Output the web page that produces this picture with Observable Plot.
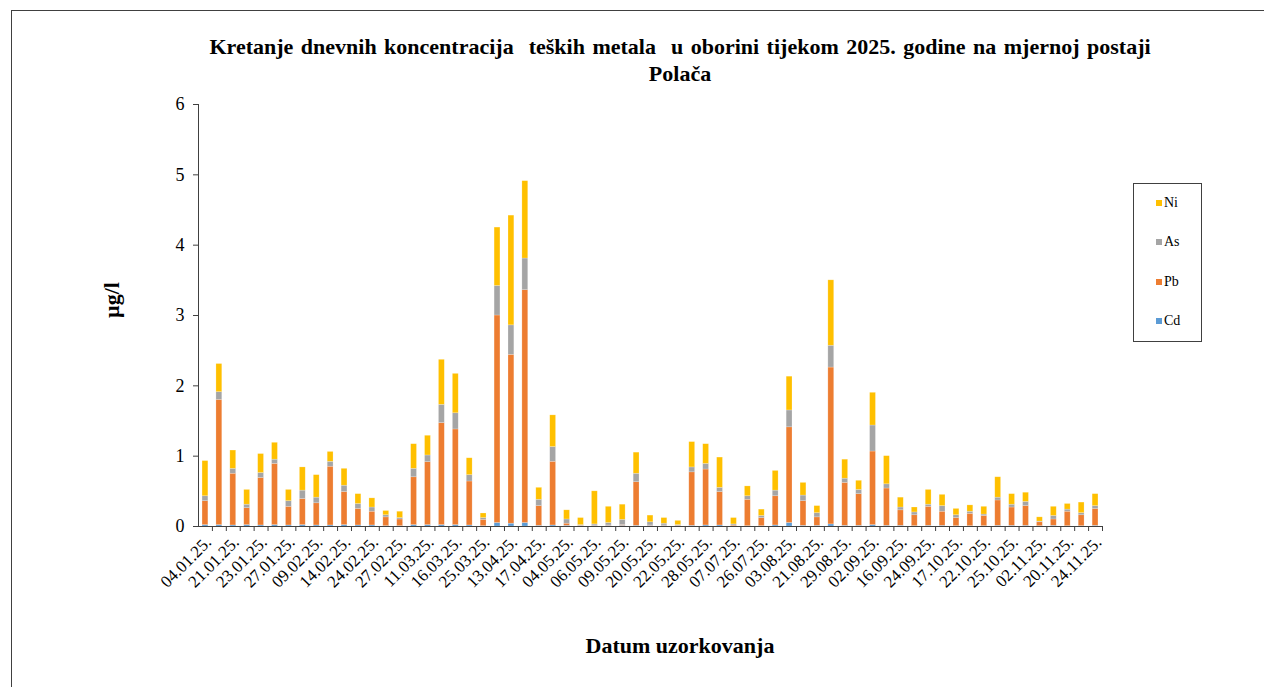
<!DOCTYPE html>
<html>
<head>
<meta charset="utf-8">
<script src="https://cdn.jsdelivr.net/npm/d3@7"></script>
<script src="https://cdn.jsdelivr.net/npm/@observablehq/plot@0.6"></script>
<style>
  html, body { margin: 0; padding: 0; background: #fff; overflow: hidden; }
  #wrap { position: relative; width: 1264px; height: 687px; overflow: hidden; font-family: "Liberation Serif", "Times New Roman", serif; color: #000; }
  #border { position: absolute; left: 11px; top: 10px; width: 1300px; height: 720px; border: 1px solid #404040; box-sizing: border-box; }
  #chart { position: absolute; left: 0; top: 0; }
  #chart svg text { font-family: "Liberation Serif", "Times New Roman", serif; }
  #title { position: absolute; left: 130px; width: 1100px; top: 33px; text-align: center; font-weight: bold; font-size: 22px; line-height: 27px; word-spacing: 2px; }
  #ylab { position: absolute; left: 112px; top: 300px; transform: translate(-50%, -50%) rotate(-90deg); font-weight: bold; font-size: 22px; white-space: nowrap; }
  #xlab { position: absolute; left: 680px; top: 646px; transform: translate(-50%, -50%); font-weight: bold; font-size: 22px; white-space: nowrap; }
  #legend { position: absolute; left: 1133px; top: 183px; width: 69px; height: 159px; border: 1px solid #404040; box-sizing: border-box; }
  .li { position: absolute; left: 22px; font-size: 14px; line-height: 14px; white-space: nowrap; }
  .sw { display: inline-block; width: 6px; height: 6px; margin-right: 2px; vertical-align: 1px; }
</style>
</head>
<body>
<div id="wrap">
  <div id="border"></div>
  <div id="chart"></div>
  <div id="title">Kretanje dnevnih koncentracija&nbsp; teških metala&nbsp; u oborini tijekom 2025. godine na mjernoj postaji<br>Polača</div>
  <div id="ylab">µg/l</div>
  <div id="xlab">Datum uzorkovanja</div>
  <div id="legend"></div>
</div>
<script>
const dates = ["04.01.25.","12.01.25.","21.01.25.","22.01.25.","23.01.25.","25.01.25.","27.01.25.","03.02.25.","09.02.25.","11.02.25.",
"14.02.25.","20.02.25.","24.02.25.","26.02.25.","27.02.25.","05.03.25.","11.03.25.","14.03.25.","16.03.25.","21.03.25.",
"25.03.25.","08.04.25.","13.04.25.","15.04.25.","17.04.25.","28.04.25.","04.05.25.","05.05.25.","06.05.25.","08.05.25.",
"09.05.25.","15.05.25.","20.05.25.","21.05.25.","22.05.25.","25.05.25.","28.05.25.","15.06.25.","07.07.25.","18.07.25.",
"26.07.25.","30.07.25.","03.08.25.","12.08.25.","21.08.25.","25.08.25.","29.08.25.","31.08.25.","02.09.25.","10.09.25.",
"16.09.25.","20.09.25.","24.09.25.","05.10.25.","17.10.25.","20.10.25.","22.10.25.","23.10.25.","25.10.25.","29.10.25.",
"02.11.25.","12.11.25.","20.11.25.","22.11.25.","24.11.25."];

const metals = ["Cd", "Pb", "As", "Ni"];
const metalColors = ["#5B9BD5", "#ED7D31", "#A5A5A5", "#FFC000"];
const legendOrder = ["Ni", "As", "Pb", "Cd"];

const Cd = [0.02,0.02,0.015,0.02,0.015,0.02,0.015,0.02,0.015,0.015,
0.02,0.015,0.015,0.005,0.005,0.02,0.02,0.02,0.02,0.015,
0.005,0.05,0.04,0.05,0.01,0.015,0.01,0.005,0.01,0.01,
0.01,0.01,0.01,0.01,0.01,0.01,0.015,0.015,0.005,0.005,
0.005,0.015,0.05,0.01,0.01,0.03,0.01,0.01,0.02,0.01,
0.01,0.005,0.01,0.01,0.005,0.005,0.005,0.01,0.01,0.01,
0.005,0.01,0.005,0.005,0.01];

const Pb = [0.34,1.78,0.735,0.24,0.675,0.87,0.265,0.37,0.315,0.835,
0.47,0.235,0.195,0.125,0.095,0.68,0.895,1.45,1.36,0.625,
0.09,2.95,2.40,3.31,0.28,0.905,0.03,0.005,0.005,0.005,
0.01,0.62,0.005,0.005,0.005,0.76,0.795,0.475,0.01,0.375,
0.115,0.415,1.36,0.35,0.12,2.23,0.61,0.45,1.046,0.53,
0.22,0.155,0.27,0.20,0.115,0.175,0.145,0.36,0.26,0.28,
0.055,0.09,0.205,0.155,0.24];

const As = [0.07,0.11,0.07,0.05,0.07,0.06,0.08,0.12,0.08,0.07,
0.09,0.07,0.06,0.03,0.02,0.12,0.095,0.26,0.23,0.09,
0.025,0.42,0.42,0.45,0.09,0.21,0.06,0.01,0.015,0.035,
0.075,0.12,0.045,0.025,0.005,0.07,0.08,0.06,0.015,0.05,
0.03,0.08,0.24,0.08,0.06,0.31,0.06,0.06,0.37,0.06,
0.04,0.04,0.03,0.08,0.04,0.03,0.02,0.04,0.04,0.06,
0.01,0.05,0.03,0.03,0.04];

const Ni = [0.50,0.40,0.26,0.21,0.27,0.24,0.16,0.33,0.32,0.14,
0.24,0.14,0.13,0.06,0.09,0.35,0.28,0.64,0.56,0.24,
0.065,0.83,1.56,1.10,0.17,0.45,0.13,0.10,0.47,0.23,
0.215,0.30,0.095,0.08,0.06,0.36,0.28,0.43,0.09,0.14,
0.09,0.28,0.48,0.18,0.10,0.93,0.27,0.13,0.465,0.40,
0.14,0.07,0.21,0.16,0.09,0.09,0.11,0.29,0.15,0.13,
0.06,0.13,0.08,0.15,0.17];

const yTicks = [0, 1, 2, 3, 4, 5, 6];

const series = {Cd, Pb, As, Ni};
const data = [];
dates.forEach((d, i) => {
  metals.forEach(m => data.push({date: d, metal: m, value: series[m][i]}));
});

const W = 1264, H = 687;
const mL = 198, mR = 162, mT = 104, mB = 161;
const pad = 0.58;
const step = (W - mL - mR) / dates.length;
const labelDates = dates.filter((d, i) => i % 2 === 0);
const serif = "'Liberation Serif', 'Times New Roman', serif";

const chart = Plot.plot({
  width: W,
  height: H,
  marginLeft: mL,
  marginRight: mR,
  marginTop: mT,
  marginBottom: mB,
  style: `font-family: ${serif}; color: #000; background: transparent;`,
  x: {type: "band", domain: dates, paddingInner: pad, paddingOuter: pad / 2, axis: null},
  y: {domain: [0, 6], axis: null},
  color: {domain: metals, range: metalColors},
  marks: [
    Plot.barY(data, {x: "date", y: "value", fill: "metal", stroke: "#fff", strokeOpacity: 0.35, strokeWidth: 0.6}),
    Plot.frame({anchor: "left", stroke: "#404040", strokeWidth: 1}),
    Plot.frame({anchor: "bottom", stroke: "#404040", strokeWidth: 1}),
    Plot.axisY({ticks: yTicks, tickFormat: d => String(d), tickSize: 5, tickPadding: 9, fontSize: 18, fontFamily: serif, label: null, stroke: "#404040"}),
    Plot.axisX({ticks: dates, tickSize: 5, tickFormat: () => "", dx: step / 2, label: null, stroke: "#404040"}),
    Plot.axisX({ticks: labelDates, tickSize: 0, tickRotate: -45, tickPadding: 13, dx: 3, fontSize: 17, fontFamily: serif, label: null, fill: "#000"})
  ]
});
document.getElementById("chart").appendChild(chart);

const legend = document.getElementById("legend");
legendOrder.forEach((m, i) => {
  const div = document.createElement("div");
  div.className = "li";
  div.style.top = (12 + i * 39.3) + "px";
  const sw = document.createElement("span");
  sw.className = "sw";
  sw.style.background = metalColors[metals.indexOf(m)];
  div.appendChild(sw);
  div.appendChild(document.createTextNode(m));
  legend.appendChild(div);
});
</script>
</body>
</html>
